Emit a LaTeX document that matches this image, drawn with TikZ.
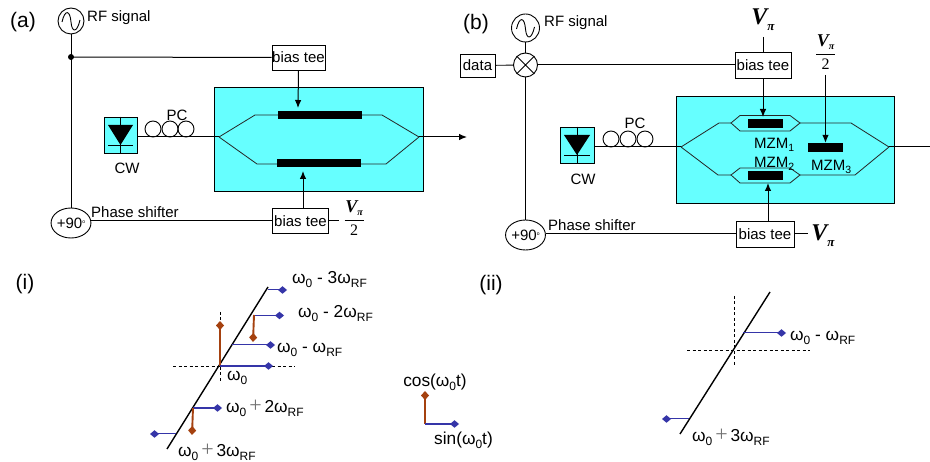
\documentclass[tikz,border=0pt]{standalone}
\usepackage{fontspec}
\setmainfont{Liberation Sans}
\newfontfamily\vfont{Liberation Serif}
\usetikzlibrary{arrows.meta,shapes.geometric,calc}
\definecolor{chip}{HTML}{66FFFF}
\definecolor{bluev}{HTML}{3535A8}
\definecolor{brownv}{HTML}{A5410F}
\newcommand{\fs}[1]{\fontsize{#1}{#1}\selectfont}
\newcommand{\sub}[1]{\raisebox{-3.5pt}{\fs{10.5}#1}}
\newcommand{\subl}[1]{\raisebox{-4pt}{\fs{12}#1}}
\newcommand{\Vpi}{{\vfont\bfseries\itshape\fs{24}V\raisebox{-6pt}{\fs{13}π}}}
\newcommand{\Vfrac}{{\vfont\bfseries\begin{tabular}{@{}c@{}}{\itshape\fs{18}V\raisebox{-3pt}{\fs{10}π}}\\[-4pt]\rule{19pt}{0.8pt}\\[0pt]{\fs{16}\mdseries 2}\end{tabular}}}
\newcommand{\wz}{ω\subl{0}}
\newcommand{\wrf}{ω\subl{RF}}
\newcommand{\plusm}{\,{\fs{22}\vfont\color{black!55}+}\,}
\newcommand{\sinewave}[1]{\draw[thinl] ([shift={(-9,1)}]#1.center) .. controls ([shift={(-6,-12)}]#1.center) and ([shift={(-1,-11)}]#1.center) .. ([shift={(0,1)}]#1.center) .. controls ([shift={(1,12)}]#1.center) and ([shift={(6,12)}]#1.center) .. ([shift={(9,-1)}]#1.center);}
\tikzset{
  thinl/.style={draw=black,line width=0.9pt},
  wire/.style={draw=black,line width=1pt},
  arrowl/.style={wire,-{Latex[length=8pt,width=6.5pt]}},
  guide/.style={draw=black!85,line width=0.8pt},
  lbl/.style={inner sep=0pt,font=\fs{15}},
  lblw/.style={inner sep=0pt,font=\fs{17.3}},
  bigl/.style={inner sep=0pt,font=\fs{21}},
  boxn/.style={draw=black,fill=white,line width=0.9pt,inner sep=0pt,font=\fs{15}},
  chipbox/.style={draw=black,fill=chip,line width=0.9pt,inner sep=0pt},
  srcn/.style={draw=black,fill=white,circle,line width=0.9pt,inner sep=0pt},
  electrode/.style={fill=black,draw=none,inner sep=0pt},
  coiln/.style={draw=black,circle,line width=0.9pt,minimum size=16pt,inner sep=0pt},
  axisd/.style={draw=black,line width=0.7pt,dash pattern=on 3pt off 2.5pt},
  slope/.style={draw=black,line width=1.4pt},
  bvthin/.style={draw=bluev,line width=1pt,-{Diamond[length=9pt,width=7.5pt,fill=bluev]}},
  bvthick/.style={draw=bluev,line width=1.9pt,-{Diamond[length=9pt,width=7.5pt,fill=bluev]}},
  brv/.style={draw=brownv,line width=1.9pt,-{Diamond[length=9pt,width=8pt,fill=brownv]}},
}
\begin{document}
\begin{tikzpicture}[x=1pt,y=-1pt]
\useasboundingbox (0,0) rectangle (930,462);
\fill[white] (0,0) rectangle (930,462);

% ---------- (a)
\node[bigl] (la) at (23,22) {(a)};
\node[srcn,minimum size=26pt] (rfa) at (71,21) {};
\sinewave{rfa}
\node[lbl,anchor=west] (rfta) at (87,18) {RF signal};
\node[draw=black,fill=white,ellipse,line width=.9pt,minimum width=36pt,minimum height=30pt,inner sep=0pt,font=\fs{15}] (pa) at (71,223) {+90\raisebox{5pt}{\fs{5}o}};
\coordinate (ja) at (71,57);
\node[boxn,minimum width=53pt,minimum height=25pt] (bta) at (298.5,57.5) {bias tee};
\node[boxn,minimum width=56pt,minimum height=25pt] (bba) at (300.5,221) {bias tee};
\node[chipbox,minimum width=209pt,minimum height=104pt] (ma) at (318.5,139.5) {};
\node[chipbox,minimum width=33pt,minimum height=36pt] (cwa) at (120.5,135) {};
\draw[thinl] (cwa.north) -- (cwa.south);
\fill[black] (108,125) -- (133,125) -- (120.5,145) -- cycle;
\draw[thinl] (108,145) -- (133,145);
\node[lbl] (cwta) at (127,168) {CW};
\node[lbl] (pcta) at (177,115) {PC};
\coordinate (ina) at (219,137);
\coordinate (outa) at (419,137);
\coordinate (enda) at (467,137);
\coordinate (tgta) at (298,108);
\coordinate (tgba) at (303,171);
\node[coiln] (c1a) at (153,129) {};
\node[coiln] (c2a) at (170,129) {};
\node[coiln] (c3a) at (186,129) {};
\draw[wire] (cwa.east |- ina) -- (ina);
\draw[guide] (ina) -- (255,115) -- (382,115) -- (outa);
\draw[guide] (ina) -- (257,164) -- (386,164) -- (outa);
\node[electrode,minimum width=84pt,minimum height=8pt] (e1a) at (320,115) {};
\node[electrode,minimum width=84pt,minimum height=8pt] (e2a) at (319,163.5) {};
\draw[arrowl] (outa) -- (enda);
\draw[wire] (rfa) -- (pa);
\fill (ja) circle (3pt);
\draw[wire] (ja) -- (bta.west);
\draw[arrowl] (bta.south) -- (tgta);
\draw[wire] (pa.east |- bba.west) -- (bba.west);
\draw[arrowl] ([xshift=2.5pt]bba.north) -- (tgba);
\node[lbl,anchor=west] (psa) at (91,212) {Phase shifter};
\node[inner sep=0pt] (fa) at (354,220) {\Vfrac};
\draw[wire] (bba.east) -- (339,221);

% ---------- (b)
\node[bigl] (lb) at (476,24) {(b)};
\node[srcn,minimum size=28pt] (rfb) at (525.5,28) {};
\sinewave{rfb}
\node[lbl,anchor=west] (rftb) at (544,23) {RF signal};
\node[srcn,minimum size=24pt] (mix) at (525.5,65) {};
\draw[thinl] (mix.45) -- (mix.225) (mix.135) -- (mix.315);
\node[boxn,minimum width=35pt,minimum height=23pt] (data) at (477.5,65.5) {data};
\node[draw=black,fill=white,ellipse,line width=.9pt,minimum width=36pt,minimum height=30pt,inner sep=0pt,font=\fs{15}] (pb) at (525.5,235) {+90\raisebox{5pt}{\fs{5}o}};
\node[boxn,minimum width=56pt,minimum height=26pt] (btb) at (763,65) {bias tee};
\node[boxn,minimum width=58pt,minimum height=26pt] (bbb) at (765,234) {bias tee};
\node[chipbox,minimum width=218pt,minimum height=107pt] (mb) at (785,149.5) {};
\node[chipbox,minimum width=34pt,minimum height=36pt] (cwb) at (577,145) {};
\draw[thinl] (cwb.north) -- (cwb.south);
\fill[black] (564,135) -- (590,135) -- (577,155) -- cycle;
\draw[thinl] (564,155) -- (590,155);
\node[lbl] (cwtb) at (583,179) {CW};
\node[lbl] (pctb) at (635,123) {PC};
\coordinate (inb) at (681,147);
\coordinate (outb) at (889,147);
\coordinate (endb) at (930,147);
\node[coiln] (c1b) at (611,139) {};
\node[coiln] (c2b) at (628,139) {};
\node[coiln] (c3b) at (645,139) {};
\draw[wire] (cwb.east |- inb) -- (inb);
\draw[guide] (inb) -- (719,123) -- (731,123) (800,123) -- (851,123) -- (outb);
\draw[guide] (inb) -- (718,175) -- (731,175) (800,175) -- (855,175) -- (outb);
\draw[guide] (731,123) -- (740,115.5) -- (790,115.5) -- (800,123) -- (790,131) -- (740,131) -- cycle;
\draw[guide] (731,175) -- (740,168) -- (790,168) -- (800,175) -- (790,183) -- (740,183) -- cycle;
\node[electrode,minimum width=35pt,minimum height=9pt] (e1b) at (765.5,123.5) {};
\node[electrode,minimum width=35pt,minimum height=9pt] (e2b) at (765.5,175.5) {};
\node[electrode,minimum width=35pt,minimum height=9pt] (e3b) at (825.5,147.5) {};
\node[lbl,anchor=west] (m1) at (754,145) {MZM\sub{1}};
\node[lbl,anchor=west] (m2) at (754,164) {MZM\sub{2}};
\node[lbl,anchor=west] (m3) at (811,167) {MZM\sub{3}};
\draw[wire] (outb) -- (endb);
\draw[thinl] (rfb) -- (mix);
\draw[thinl] (data) -- (mix);
\draw[wire] (mix) -- (btb.west);
\draw[thinl] (mix) -- (pb);
\draw[wire] (pb.east |- bbb.west) -- (bbb.west);
\node[inner sep=0pt] (vt) at (763,20) {\Vpi};
\draw[thinl] (vt.south |- 0,37) -- (btb.north);
\draw[arrowl] (btb.south) -- (763,117);
\draw[arrowl] ([xshift=3pt]bbb.north) -- (768,183);
\node[inner sep=0pt] (fb) at (825.5,54) {\Vfrac};
\draw[arrowl,line width=.9pt] (825.5,75) -- (e3b.north);
\node[inner sep=0pt] (vb) at (823,236) {\Vpi};
\draw[wire] (bbb.east) -- (808,234);
\node[lbl,anchor=west] (psb) at (548,225) {Phase shifter};

% ---------- (i)
\node[bigl] (li) at (25,284) {(i)};
\draw[axisd] (173,366) -- (295,366);
\draw[axisd] (220,312) -- (220,383);
\draw[slope] (167,449) -- (268,287);
\draw[bvthin] (268,290) -- (287,290);
\draw[bvthick] (254,315.5) -- (284,315.5);
\draw[brv] (254,315) -- (253,342);
\draw[bvthin] (232,345) -- (275,345);
\draw[brv] (220,366) -- (220,321);
\draw[bvthick] (220,366) -- (273,366);
\draw[bvthick] (193,408) -- (222,408);
\draw[brv] (193,408) -- (192,435);
\draw[bvthin] (176,434) -- (150,434);
\node[lblw,anchor=west] (t1) at (292,280) {\wz{} - 3\wrf};
\node[lblw,anchor=west] (t2) at (298,314) {\wz{} - 2\wrf};
\node[lblw,anchor=west] (t3) at (277,350) {\wz{} - \wrf};
\node[lblw,anchor=west] (t4) at (227,378) {\wz};
\node[lblw,anchor=west] (t5) at (226,408) {\wz\plusm2\wrf};
\node[lblw,anchor=west] (t6) at (178,452) {\wz\plusm3\wrf};

% ---------- legend
\draw[brv] (425,424) -- (425,391);
\draw[bvthick,line width=1.4pt] (425,424) -- (459,424);
\node[lblw] (tc) at (435,382) {cos(\wz t)};
\node[lblw] (ts) at (463.5,440) {sin(\wz t)};

% ---------- (ii)
\node[bigl] (lii) at (491,285) {(ii)};
\draw[axisd] (687,350) -- (810,350);
\draw[axisd] (734,296) -- (734,367);
\draw[slope] (680,434) -- (770,292);
\draw[bvthin] (743,333) -- (786,333);
\draw[bvthin] (689,419) -- (662,419);
\node[lblw,anchor=west] (t7) at (790,338) {\wz{} - \wrf};
\node[lblw,anchor=west] (t8) at (692,437) {\wz\plusm3\wrf};
\end{tikzpicture}
\end{document}
